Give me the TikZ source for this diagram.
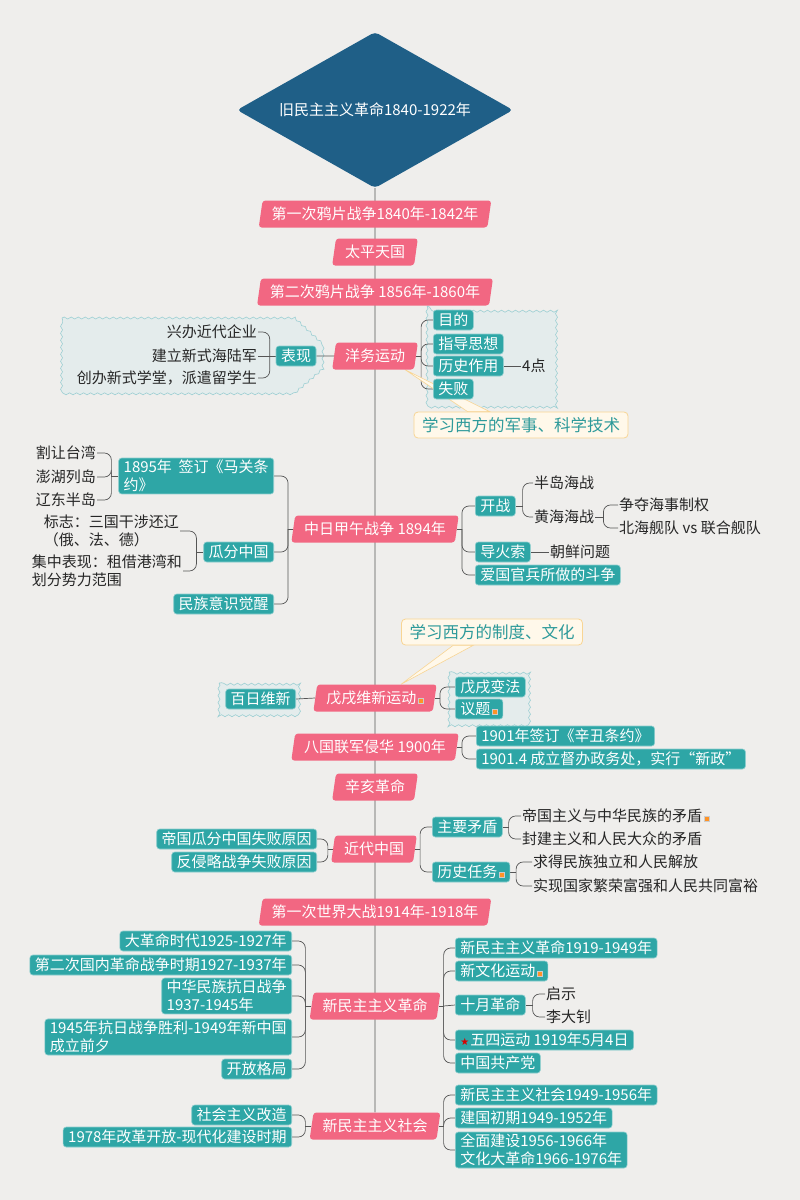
\documentclass[tikz,border=0pt]{standalone}
\usepackage{fontspec}
\setmainfont{Noto Sans CJK SC}
\newfontfamily\symfont{DejaVu Sans}
\usetikzlibrary{shapes.geometric,backgrounds,decorations.pathmorphing}
\definecolor{bgc}{HTML}{EFEEEC}
\definecolor{pinkc}{HTML}{F26782}
\definecolor{tealc}{HTML}{2EA6A6}
\definecolor{navyc}{HTML}{1F5F87}
\definecolor{linec}{HTML}{555555}
\definecolor{wavefill}{HTML}{E4ECEC}
\definecolor{wavedraw}{HTML}{9CCFD3}
\definecolor{notefill}{HTML}{FFF8EA}
\definecolor{notedraw}{HTML}{F8D594}
\definecolor{notetext}{HTML}{2E9A9A}
\newcommand\notemark{\kern2pt\raisebox{1pt}{\setlength\fboxsep{0.6pt}\fcolorbox{gray!40}{white}{\color{orange!85}\rule{3.5pt}{3.5pt}}}}
\newcommand\redstar{{\symfont\fontsize{10}{10}\selectfont\color{red!85!black}★}\kern1pt}

\begin{document}
\begin{tikzpicture}[x=1pt,y=-1pt,font=\fontsize{15}{18}\selectfont,
  topic/.style={trapezium,trapezium left angle=80,trapezium right angle=100,
    trapezium stretches body,fill=pinkc,text=white,rounded corners=3pt,
    inner xsep=9pt,inner ysep=4pt,minimum height=27pt},
  sub/.style={fill=tealc,draw=tealc!55!white,line width=0.6pt,text=white,
    rounded corners=3pt,inner xsep=5pt,inner ysep=2pt,minimum height=20pt},
  subl/.style={sub,align=left},
  leaf/.style={inner sep=1pt,align=left,text=black!85},
  link/.style={draw=linec,line width=0.7pt,rounded corners=7pt},
  wave/.style={decorate,decoration={snake,segment length=7pt,amplitude=1pt},
    fill=wavefill,draw=wavedraw,line width=0.6pt},
  callout/.style={fill=notefill,draw=notedraw,line width=0.8pt,text=notetext,
    rounded corners=4pt,inner xsep=8pt,minimum height=26pt,
    font=\fontsize{16.5}{18}\selectfont}]
\useasboundingbox (0,0) rectangle (800,1200);

\node[diamond,aspect=1.77,fill=navyc,text=white,minimum width=276pt,
  minimum height=156pt,inner sep=0pt,rounded corners=4pt] (root) at (375,110) {旧民主主义革命1840-1922年};

\node[topic] (yp1) at (375,214) {第一次鸦片战争1840年-1842年};
\node[topic] (tp) at (375,252) {太平天国};
\node[topic] (yp2) at (375,292) {第二次鸦片战争 1856年-1860年};
\node[topic] (yw) at (375,356) {洋务运动};
\node[topic] (jw) at (375,529) {中日甲午战争 1894年};
\node[topic] (wx) at (375,698) {戊戌维新运动\notemark};
\node[topic] (bg) at (375,747) {八国联军侵华 1900年};
\node[topic] (xh) at (375,787) {辛亥革命};
\node[topic] (jd) at (374,849) {近代中国};
\node[topic] (yz) at (375,912) {第一次世界大战1914年-1918年};
\node[topic] (gm) at (375,1006) {新民主主义革命};
\node[topic] (xs) at (375,1126) {新民主主义社会};

\node[sub] (bx) at (296,356) {表现};
\node[leaf,anchor=east] (qy) at (258,332) {兴办近代企业};
\node[leaf,anchor=east] (hl) at (258,356) {建立新式海陆军};
\node[leaf,anchor=east] (xt) at (258,378) {创办新式学堂，派遣留学生};
\node[sub,anchor=west] (md) at (433,320) {目的};
\node[sub,anchor=west] (zx) at (433,344) {指导思想};
\node[sub,anchor=west] (zy) at (433,366) {历史作用};
\node[sub,anchor=west] (sb) at (433,389) {失败};
\node[leaf,anchor=west] (sd) at (521,366) {4点};
\node[callout] (js) at (521,425) {学习西方的军事、科学技术};

\node[subl,anchor=east] (mg) at (274,476) {1895年\ \ 签订《马关条\\约》};
\node[leaf,anchor=east] (tw) at (97,453) {割让台湾};
\node[leaf,anchor=east] (ph) at (97,477) {澎湖列岛};
\node[leaf,anchor=east] (ld) at (97,500) {辽东半岛};
\node[sub,anchor=east] (gf) at (274,552) {瓜分中国};
\node[leaf,anchor=east] (bz) at (180,531) {标志：三国干涉还辽\\（俄、法、德）};
\node[leaf,anchor=east] (jz) at (183,571) {集中表现：租借港湾和\\划分势力范围};
\node[sub,anchor=east] (mz) at (274,604) {民族意识觉醒};
\node[sub,anchor=west] (kz) at (475,506) {开战};
\node[leaf,anchor=west] (bd) at (533,483) {半岛海战};
\node[leaf,anchor=west] (hh) at (533,517) {黄海海战};
\node[leaf,anchor=west] (zd) at (618,505) {争夺海事制权};
\node[leaf,anchor=west] (bh) at (618,528) {北海舰队 vs 联合舰队};
\node[sub,anchor=west] (dh) at (475,552) {导火索};
\node[leaf,anchor=west] (cx) at (549,552) {朝鲜问题};
\node[sub,anchor=west] (ag) at (475,575) {爱国官兵所做的斗争};

\node[callout] (zw) at (492,632) {学习西方的制度、文化};
\node[sub,anchor=east] (bw) at (296,699) {百日维新};
\node[sub,anchor=west] (wf) at (455,687) {戊戌变法};
\node[sub,anchor=west] (yt) at (455,709) {议题\notemark};

\node[sub,anchor=west] (xc) at (476,736) {1901年签订《辛丑条约》};
\node[sub,anchor=west] (xz) at (476,759) {1901.4 成立督办政务处，实行“新政”};

\node[sub,anchor=east] (dg) at (317,839) {帝国瓜分中国失败原因};
\node[sub,anchor=east] (fq) at (317,862) {反侵略战争失败原因};
\node[sub,anchor=west] (zm) at (432,827) {主要矛盾};
\node[leaf,anchor=west] (dz) at (521,816) {帝国主义与中华民族的矛盾\notemark};
\node[leaf,anchor=west] (fj) at (521,839) {封建主义和人民大众的矛盾};
\node[sub,anchor=west] (rw) at (432,872) {历史任务\notemark};
\node[leaf,anchor=west] (qd) at (532,862) {求得民族独立和人民解放};
\node[leaf,anchor=west] (sx) at (532,886) {实现国家繁荣富强和人民共同富裕};

\node[sub,anchor=east] (dm) at (292,941) {大革命时代1925-1927年};
\node[sub,anchor=east] (ec) at (292,965) {第二次国内革命战争时期1927-1937年};
\node[subl,anchor=east] (kr) at (292,996) {中华民族抗日战争\\1937-1945年};
\node[subl,anchor=east] (sl) at (292,1037) {1945年抗日战争胜利-1949年新中国\\成立前夕};
\node[sub,anchor=east] (kf) at (292,1069) {开放格局};
\node[sub,anchor=west] (xm) at (455,948) {新民主主义革命1919-1949年};
\node[sub,anchor=west] (xw) at (455,971) {新文化运动\notemark};
\node[sub,anchor=west] (sy) at (455,1005) {十月革命};
\node[leaf,anchor=west] (qs) at (545,994) {启示};
\node[leaf,anchor=west] (lz) at (545,1017) {李大钊};
\node[sub,anchor=west] (ws) at (455,1040) {\redstar 五四运动 1919年5月4日};
\node[sub,anchor=west] (gc) at (455,1063) {中国共产党};

\node[sub,anchor=east] (gz) at (292,1115) {社会主义改造};
\node[sub,anchor=east] (gk) at (292,1137) {1978年改革开放-现代化建设时期};
\node[sub,anchor=west] (xsh) at (455,1095) {新民主主义社会1949-1956年};
\node[sub,anchor=west] (cq) at (455,1118) {建国初期1949-1952年};
\node[subl,anchor=west] (qm) at (455,1150) {全面建设1956-1966年\\文化大革命1966-1976年};

\begin{scope}[on background layer]
\fill[bgc] (0,0) rectangle (800,1200);
\draw[wave] (62,318) -- (293,318) -- (322,345) -- (322,368) -- (293,393) -- (62,393) -- cycle;
\draw[wave] (427,306) rectangle (556,405);
\draw[wave] (219,683) rectangle (301,714);
\draw[wave] (449,672) rectangle (530,725);

\draw[link] (root.south) -- (xs.north);

\draw[link] (bx.east) -- (yw.west);
\coordinate (bxL) at ([xshift=-6pt]bx.west);
\draw[link] (bx.west) -- (bxL);
\draw[link] (bxL) |- (qy.east);
\draw[link] (bxL) -- (hl.east);
\draw[link] (bxL) |- (xt.east);
\coordinate (ywR) at ([xshift=5pt]yw.east);
\draw[link] (yw.east) -- (ywR);
\draw[link] (ywR) |- (md.west);
\draw[link] (ywR) |- (zx.west);
\draw[link] (ywR) |- (zy.west);
\draw[link] (ywR) |- (sb.west);
\draw[link] (zy.east) -- (sd.west);
\filldraw[fill=notefill,draw=notedraw,line width=0.6pt] ([xshift=30pt]yw.south)
  -- ([xshift=54pt]js.north west) -- ([xshift=76pt]js.north west) -- cycle;

\coordinate (jwL) at ([xshift=-5pt]jw.west);
\draw[link] (jw.west) -- (jwL);
\draw[link] (jwL) |- (mg.east);
\draw[link] (jwL) |- (gf.east);
\draw[link] (jwL) |- (mz.east);
\coordinate (mgL) at ([xshift=-7pt]mg.west);
\draw[link] (mg.west) -- (mgL);
\draw[link] (mgL) |- (tw.east);
\draw[link] (mgL) |- (ph.east);
\draw[link] (mgL) |- (ld.east);
\coordinate (gfL) at ([xshift=-7pt]gf.west);
\draw[link] (gf.west) -- (gfL);
\draw[link] (gfL) |- (bz.east);
\draw[link] (gfL) |- (jz.east);
\coordinate (jwR) at ([xshift=5pt]jw.east);
\draw[link] (jw.east) -- (jwR);
\draw[link] (jwR) |- (kz.west);
\draw[link] (jwR) |- (dh.west);
\draw[link] (jwR) |- (ag.west);
\coordinate (kzR) at ([xshift=7pt]kz.east);
\draw[link] (kz.east) -- (kzR);
\draw[link] (kzR) |- (bd.west);
\draw[link] (kzR) |- (hh.west);
\coordinate (hhR) at ([xshift=8pt]hh.east);
\draw[link] (hh.east) -- (hhR);
\draw[link] (hhR) |- (zd.west);
\draw[link] (hhR) |- (bh.west);
\draw[link] (dh.east) -- (cx.west);

\filldraw[fill=notefill,draw=notedraw,line width=0.6pt] ([xshift=26pt]wx.north)
  -- ([xshift=52pt]zw.south west) -- ([xshift=72pt]zw.south west) -- cycle;
\draw[link] (bw.east) -- (wx.west);
\coordinate (wxR) at ([xshift=5pt]wx.east);
\draw[link] (wx.east) -- (wxR);
\draw[link] (wxR) |- (wf.west);
\draw[link] (wxR) |- (yt.west);

\coordinate (bgR) at ([xshift=5pt]bg.east);
\draw[link] (bg.east) -- (bgR);
\draw[link] (bgR) |- (xc.west);
\draw[link] (bgR) |- (xz.west);

\coordinate (jdL) at ([xshift=-5pt]jd.west);
\draw[link] (jd.west) -- (jdL);
\draw[link] (jdL) |- (dg.east);
\draw[link] (jdL) |- (fq.east);
\coordinate (jdR) at ([xshift=5pt]jd.east);
\draw[link] (jd.east) -- (jdR);
\draw[link] (jdR) |- (zm.west);
\draw[link] (jdR) |- (rw.west);
\coordinate (zmR) at ([xshift=6pt]zm.east);
\draw[link] (zm.east) -- (zmR);
\draw[link] (zmR) |- (dz.west);
\draw[link] (zmR) |- (fj.west);
\coordinate (rwR) at ([xshift=6pt]rw.east);
\draw[link] (rw.east) -- (rwR);
\draw[link] (rwR) |- (qd.west);
\draw[link] (rwR) |- (sx.west);

\coordinate (gmL) at ([xshift=-6pt]gm.west);
\draw[link] (gm.west) -- (gmL);
\draw[link] (gmL) |- (dm.east);
\draw[link] (gmL) |- (ec.east);
\draw[link] (gmL) |- (kr.east);
\draw[link] (gmL) |- (sl.east);
\draw[link] (gmL) |- (kf.east);
\coordinate (gmR) at ([xshift=5pt]gm.east);
\draw[link] (gm.east) -- (gmR);
\draw[link] (gmR) |- (xm.west);
\draw[link] (gmR) |- (xw.west);
\draw[link] (gmR) -- (sy.west);
\draw[link] (gmR) |- (ws.west);
\draw[link] (gmR) |- (gc.west);
\coordinate (syR) at ([xshift=7pt]sy.east);
\draw[link] (sy.east) -- (syR);
\draw[link] (syR) |- (qs.west);
\draw[link] (syR) |- (lz.west);

\coordinate (xsL) at ([xshift=-6pt]xs.west);
\draw[link] (xs.west) -- (xsL);
\draw[link] (xsL) |- (gz.east);
\draw[link] (xsL) |- (gk.east);
\coordinate (xsR) at ([xshift=5pt]xs.east);
\draw[link] (xs.east) -- (xsR);
\draw[link] (xsR) |- (xsh.west);
\draw[link] (xsR) |- (cq.west);
\draw[link] (xsR) |- (qm.west);
\end{scope}
\end{tikzpicture}
\end{document}
